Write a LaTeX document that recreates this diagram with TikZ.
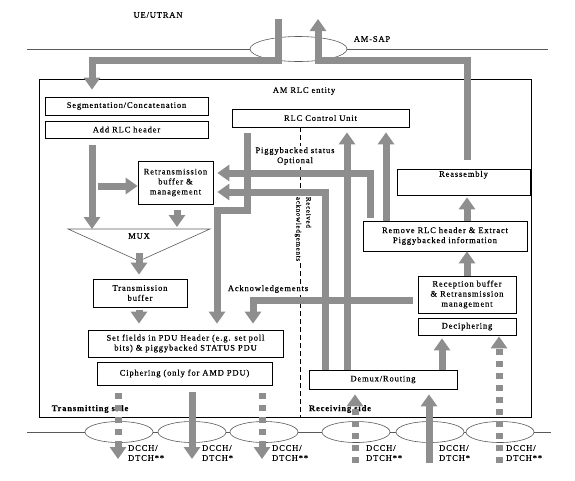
\documentclass[tikz,border=0pt]{standalone}
\usepackage{xcolor}
\usepackage{amsmath, amssymb}
\usepackage{fontspec}
\setmainfont[LetterSpace=10, FakeBold=0.4]{Liberation Serif}
\usepackage{tikz}
\usetikzlibrary{arrows.meta,shapes.geometric}
\definecolor{pipegray}{RGB}{142,142,142}
\definecolor{railgray}{RGB}{90,90,90}

\tikzset{
	unitbox/.style={draw=black, line width=0.7pt, fill=white, inner sep=1pt, align=center},
	pipe/.style={draw=pipegray, line width=7pt, -{Triangle[width=16pt, length=12pt]}},
	dpipe/.style={pipe, dash pattern=on 6pt off 6pt},
	sapring/.style={shape=ellipse, draw=railgray, line width=0.6pt, fill=white, inner sep=0pt},
	rail/.style={draw=railgray, line width=0.6pt},
	divider/.style={draw=black, line width=0.6pt, dash pattern=on 5pt off 3pt},
	note/.style={fill=white, inner sep=1pt, align=center},
	sidelabel/.style={font=\fontsize{8.5}{10}\selectfont\bfseries},
	chanlabel/.style={anchor=west, align=left, inner sep=0pt}
}

\begin{document}
\begin{tikzpicture}[x=1pt, y=-1pt, font=\fontsize{8.5}{10}\selectfont]

	\useasboundingbox (0,0) rectangle (575,480);

	\node (UeUtran) at (158,15) {UE/UTRAN};
	\node (AmSapText) at (372,39) {AM-SAP};
	\draw[rail] (27,49) -- (548,49);
	\node[sapring, minimum width=97pt, minimum height=25pt] (AmSap) at (298.5,49) {};
	\coordinate (SapIn) at (278,19);
	\coordinate (SapOut) at (318,19);
	\coordinate (TopRail) at (0,60);

	\node[draw=black, line width=0.7pt, minimum width=492pt, minimum height=338pt, inner sep=0pt] (Entity) at (285,248) {};
	\node (EntityName) at (304,91) {AM RLC entity};

	\node[unitbox, minimum width=163pt, minimum height=18pt] (Segment) at (126.5,106) {Segmentation/Concatenation};
	\node[unitbox, minimum width=163pt, minimum height=17pt] (AddHeader) at (126.5,129.5) {Add RLC header};
	\node[unitbox, minimum width=75pt, minimum height=43pt] (Retrans) at (175.5,182.5) {Retransmission\\buffer \&\\management};
	\node[unitbox, minimum width=177pt, minimum height=18pt] (ControlUnit) at (320.5,118) {RLC Control Unit};
	\node[unitbox, minimum width=133pt, minimum height=26pt, label={[anchor=north, inner sep=2pt]north:Reassembly}] (Reassembly) at (463.5,182) {};
	\node[unitbox, minimum width=164pt, minimum height=30pt] (RemoveHeader) at (445,236) {Remove RLC header \& Extract\\Piggybacked information};
	\node[unitbox, minimum width=98pt, minimum height=37pt] (ReceptionBuf) at (467,294.5) {Reception buffer\\\& Retransmission\\management};
	\node[unitbox, minimum width=98pt, minimum height=17pt] (Decipher) at (467,326.5) {Deciphering};
	\node[unitbox, minimum width=148pt, minimum height=19pt] (Demux) at (383,379.5) {Demux/Routing};
	\node[unitbox, minimum width=94pt, minimum height=28pt] (TxBuffer) at (140,293) {Transmission\\buffer};
	\node[unitbox, minimum width=195pt, minimum height=27pt] (SetFields) at (185.5,343.5) {Set fields in PDU Header (e.g. set poll\\bits) \& piggybacked STATUS PDU};
	\node[unitbox, minimum width=175pt, minimum height=23pt] (Cipher) at (184.5,373.5) {Ciphering (only for AMD PDU)};

	\coordinate (MuxL) at (68,229);
	\coordinate (MuxR) at (210,229);
	\coordinate (MuxB) at (139,261);
	\draw[rail] (MuxL) -- (MuxR) -- (MuxB) -- cycle;
	\node (Mux) at (139,236) {MUX};

	\draw[divider] ([xshift=-20.5pt]ControlUnit.south) -- ([xshift=-20.5pt]ControlUnit.south |- Entity.south);
	\node[note] (Piggyback) at (295,156) {Piggybacked status\\Optional};
	\node[note, rotate=-90, align=left, font=\fontsize{7}{10}\selectfont] (RecvAck) at (303,229) {Received\\acknowledgements};
	\node[note] (AckLabel) at (268,289) {Acknowledgements};
	\node[sidelabel] (TxSide) at (90,409) {Transmitting side};
	\node[sidelabel] (RxSide) at (340,409) {Receiving side};

	\draw[rail] (27,432) -- (551,432);
	\node[sapring, minimum width=68pt, minimum height=21pt] (SapA) at (119,432) {};
	\node[sapring, minimum width=68pt, minimum height=21pt] (SapB) at (192,432) {};
	\node[sapring, minimum width=68pt, minimum height=21pt] (SapC) at (264,432) {};
	\node[sapring, minimum width=68pt, minimum height=21pt] (SapD) at (356,432) {};
	\node[sapring, minimum width=68pt, minimum height=21pt] (SapE) at (430,432) {};
	\node[sapring, minimum width=68pt, minimum height=21pt] (SapF) at (500,432) {};
	\node[chanlabel] (ChanA) at (128,453) {DCCH/\\DTCH**};
	\node[chanlabel] (ChanB) at (202,453) {DCCH/\\DTCH*};
	\node[chanlabel] (ChanC) at (272,453) {DCCH/\\DTCH**};
	\node[chanlabel] (ChanD) at (366,453) {DCCH/\\DTCH**};
	\node[chanlabel] (ChanE) at (439,453) {DCCH/\\DTCH*};
	\node[chanlabel] (ChanF) at (506,453) {DCCH/\\DTCH**};
	\coordinate (ChanEnd) at (0,459);
	\coordinate (ChanStart) at (0,463);

	\draw[pipe, shorten >=7pt] (SapIn) -- (SapIn |- TopRail) -| ([xshift=-34.5pt]Segment.north);
	\draw[pipe, shorten <=9pt] ([xshift=3.5pt]Reassembly.north) |- (SapOut |- TopRail) -- (SapOut);

	\draw[pipe, shorten <=7pt] ([xshift=-34.5pt]AddHeader.south) -- ([xshift=-34.5pt]AddHeader.south |- MuxL);
	\draw[pipe] ([yshift=-3.5pt]Retrans.west) ++(-40,0) -- ([yshift=-3.5pt]Retrans.west);
	\draw[pipe, shorten <=6pt, shorten >=2pt] ([xshift=1.5pt]Retrans.south) -- ([xshift=1.5pt]Retrans.south |- MuxL);
	\draw[pipe, shorten >=4pt] ([yshift=8pt]MuxB) -- (MuxB |- TxBuffer.north);
	\draw[pipe, shorten <=3pt, shorten >=6pt] ([xshift=-1pt]TxBuffer.south) -- ([xshift=-1pt]TxBuffer.south |- SetFields.north);
	\draw[pipe, shorten <=6pt, shorten >=6pt] ([xshift=-73.5pt]ControlUnit.south) -- ++(0,83) -| ([xshift=31.5pt]SetFields.north);

	\draw[pipe, shorten <=3pt, shorten >=4pt] ([xshift=-75pt]RemoveHeader.north) |- ([yshift=9.5pt]Retrans.east);
	\draw[pipe, shorten >=4pt] ([xshift=-58pt]Demux.north) |- ([yshift=-9.5pt]Retrans.east);
	\draw[pipe, shorten >=5pt] ([xshift=-36pt]Demux.north) -- ([xshift=-36pt]Demux.north |- ControlUnit.south);
	\draw[pipe, shorten >=5pt] ([xshift=-59pt]RemoveHeader.north) -- ([xshift=-59pt]RemoveHeader.north |- ControlUnit.south);
	\draw[pipe, shorten <=5pt, shorten >=6pt] ([yshift=-5.5pt]ReceptionBuf.west) -| ([xshift=67.5pt]SetFields.north);

	\draw[pipe] (ReceptionBuf.north) -- (ReceptionBuf.north |- RemoveHeader.south);
	\draw[pipe, shorten >=2pt] ([xshift=22pt]RemoveHeader.north) -- ([xshift=22pt]RemoveHeader.north |- Reassembly.south);
	\draw[pipe, shorten >=3pt] ([xshift=59pt]Demux.north) -- ([xshift=59pt]Demux.north |- Decipher.south);

	\draw[dpipe, shorten <=8pt] ([xshift=-66.5pt]Cipher.south) -- ([xshift=-66.5pt]Cipher.south |- ChanEnd);
	\draw[pipe, shorten <=7pt] ([xshift=7.5pt]Cipher.south) -- ([xshift=7.5pt]Cipher.south |- ChanEnd);
	\draw[dpipe, shorten <=8pt] ([xshift=77.5pt]Cipher.south) -- ([xshift=77.5pt]Cipher.south |- ChanEnd);
	\draw[dpipe, shorten >=5pt] ([xshift=-28pt]Demux.south |- ChanStart) -- ([xshift=-28pt]Demux.south);
	\draw[pipe, shorten >=5pt] ([xshift=46pt]Demux.south |- ChanStart) -- ([xshift=46pt]Demux.south);
	\draw[dpipe, shorten >=1pt] ([xshift=32pt]Decipher.south |- ChanStart) -- ([xshift=32pt]Decipher.south);

\end{tikzpicture}
\end{document}
